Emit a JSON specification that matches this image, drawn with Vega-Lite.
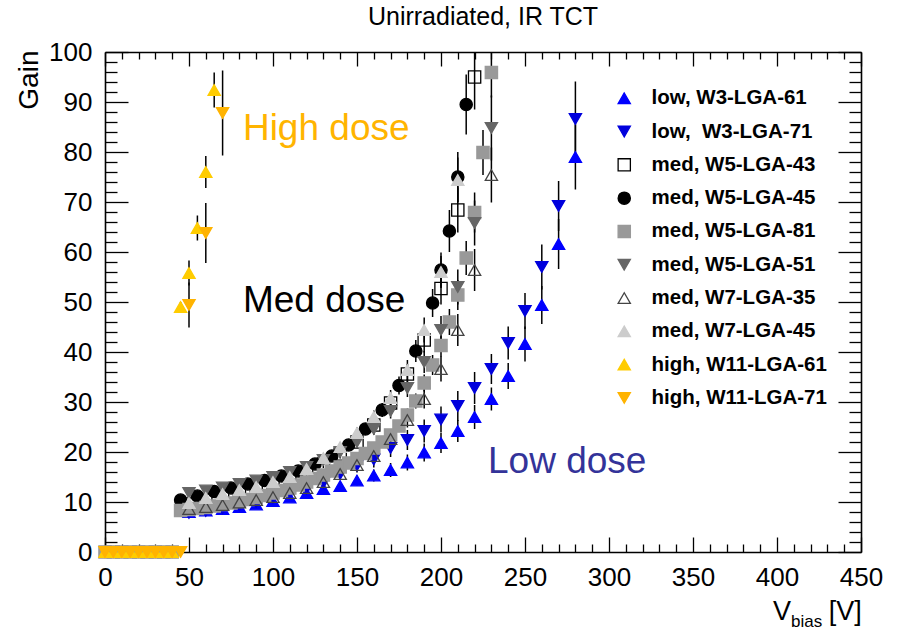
{
"$schema": "https://vega.github.io/schema/vega-lite/v6.json",
"width": 756, "height": 500,
"autosize": {"type": "none"},
"padding": {"left": 105, "top": 52, "right": 36, "bottom": 78},
"background": "white",
"config": {
  "view": {"stroke": null},
  "font": "Liberation Sans",
  "axis": {"grid": false, "domainColor": "#000", "domainWidth": 1.6, "tickColor": "#000", "tickWidth": 1.3, "labelColor": "#000", "labelFont": "Liberation Sans", "titleColor": "#000", "titleFont": "Liberation Sans"}
},
"datasets": {"pts": [
{"s":"low, W3-LGA-61","v":50,"g":8.0,"e":0.4},{"s":"low, W3-LGA-61","v":60,"g":8.3,"e":0.4},{"s":"low, W3-LGA-61","v":70,"g":8.6,"e":0.4},{"s":"low, W3-LGA-61","v":80,"g":9.0,"e":0.5},{"s":"low, W3-LGA-61","v":90,"g":9.5,"e":0.5},{"s":"low, W3-LGA-61","v":100,"g":10.2,"e":0.6},{"s":"low, W3-LGA-61","v":110,"g":10.9,"e":0.6},{"s":"low, W3-LGA-61","v":120,"g":11.8,"e":0.7},{"s":"low, W3-LGA-61","v":130,"g":12.6,"e":0.8},{"s":"low, W3-LGA-61","v":140,"g":13.2,"e":0.9},{"s":"low, W3-LGA-61","v":150,"g":14.3,"e":1.0},{"s":"low, W3-LGA-61","v":160,"g":15.3,"e":1.2},{"s":"low, W3-LGA-61","v":170,"g":16.4,"e":1.4},{"s":"low, W3-LGA-61","v":180,"g":17.9,"e":1.6},{"s":"low, W3-LGA-61","v":190,"g":19.9,"e":1.8},{"s":"low, W3-LGA-61","v":200,"g":21.8,"e":2.0},{"s":"low, W3-LGA-61","v":210,"g":24.2,"e":2.2},{"s":"low, W3-LGA-61","v":220,"g":27.0,"e":2.4},{"s":"low, W3-LGA-61","v":230,"g":30.6,"e":2.3},{"s":"low, W3-LGA-61","v":240,"g":35.2,"e":2.6},{"s":"low, W3-LGA-61","v":250,"g":41.6,"e":3.5},{"s":"low, W3-LGA-61","v":260,"g":49.4,"e":3.8},{"s":"low, W3-LGA-61","v":270,"g":61.6,"e":5.0},{"s":"low, W3-LGA-61","v":280,"g":79.0,"e":6.5},
{"s":"low,\u00a0 W3-LGA-71","v":50,"g":7.8,"e":0.4},{"s":"low,\u00a0 W3-LGA-71","v":60,"g":8.2,"e":0.4},{"s":"low,\u00a0 W3-LGA-71","v":70,"g":8.7,"e":0.5},{"s":"low,\u00a0 W3-LGA-71","v":80,"g":9.3,"e":0.5},{"s":"low,\u00a0 W3-LGA-71","v":90,"g":10.0,"e":0.6},{"s":"low,\u00a0 W3-LGA-71","v":100,"g":10.8,"e":0.7},{"s":"low,\u00a0 W3-LGA-71","v":110,"g":11.7,"e":0.8},{"s":"low,\u00a0 W3-LGA-71","v":120,"g":12.6,"e":0.9},{"s":"low,\u00a0 W3-LGA-71","v":130,"g":13.8,"e":1.0},{"s":"low,\u00a0 W3-LGA-71","v":140,"g":15.6,"e":1.2},{"s":"low,\u00a0 W3-LGA-71","v":150,"g":17.3,"e":1.4},{"s":"low,\u00a0 W3-LGA-71","v":160,"g":18.5,"e":1.6},{"s":"low,\u00a0 W3-LGA-71","v":170,"g":20.8,"e":1.8},{"s":"low,\u00a0 W3-LGA-71","v":180,"g":22.4,"e":2.0},{"s":"low,\u00a0 W3-LGA-71","v":190,"g":24.2,"e":2.3},{"s":"low,\u00a0 W3-LGA-71","v":200,"g":26.5,"e":2.6},{"s":"low,\u00a0 W3-LGA-71","v":210,"g":29.2,"e":3.0},{"s":"low,\u00a0 W3-LGA-71","v":220,"g":32.8,"e":3.2},{"s":"low,\u00a0 W3-LGA-71","v":230,"g":36.6,"e":3.0},{"s":"low,\u00a0 W3-LGA-71","v":240,"g":41.8,"e":3.3},{"s":"low,\u00a0 W3-LGA-71","v":250,"g":48.2,"e":3.6},{"s":"low,\u00a0 W3-LGA-71","v":260,"g":57.0,"e":4.5},{"s":"low,\u00a0 W3-LGA-71","v":270,"g":69.2,"e":5.0},{"s":"low,\u00a0 W3-LGA-71","v":280,"g":86.6,"e":7.5},
{"s":"med, W5-LGA-43","v":50,"g":9.6,"e":0.3},{"s":"med, W5-LGA-43","v":60,"g":10.4,"e":0.3},{"s":"med, W5-LGA-43","v":70,"g":11.2,"e":0.4},{"s":"med, W5-LGA-43","v":80,"g":12.0,"e":0.4},{"s":"med, W5-LGA-43","v":90,"g":12.8,"e":0.5},{"s":"med, W5-LGA-43","v":100,"g":13.8,"e":0.5},{"s":"med, W5-LGA-43","v":110,"g":14.8,"e":0.6},{"s":"med, W5-LGA-43","v":120,"g":16.0,"e":0.7},{"s":"med, W5-LGA-43","v":130,"g":17.6,"e":0.8},{"s":"med, W5-LGA-43","v":140,"g":19.6,"e":0.9},{"s":"med, W5-LGA-43","v":150,"g":22.0,"e":1.1},{"s":"med, W5-LGA-43","v":160,"g":25.4,"e":1.3},{"s":"med, W5-LGA-43","v":170,"g":29.8,"e":1.6},{"s":"med, W5-LGA-43","v":180,"g":35.6,"e":2.0},{"s":"med, W5-LGA-43","v":190,"g":42.4,"e":2.5},{"s":"med, W5-LGA-43","v":200,"g":52.7,"e":3.2},{"s":"med, W5-LGA-43","v":210,"g":68.4,"e":4.5},{"s":"med, W5-LGA-43","v":220,"g":95.0,"e":6.5},
{"s":"med, W5-LGA-45","v":45,"g":10.4,"e":0.3},{"s":"med, W5-LGA-45","v":55,"g":11.2,"e":0.3},{"s":"med, W5-LGA-45","v":65,"g":12.1,"e":0.4},{"s":"med, W5-LGA-45","v":75,"g":12.8,"e":0.4},{"s":"med, W5-LGA-45","v":85,"g":13.6,"e":0.5},{"s":"med, W5-LGA-45","v":95,"g":14.3,"e":0.5},{"s":"med, W5-LGA-45","v":105,"g":15.2,"e":0.6},{"s":"med, W5-LGA-45","v":115,"g":16.2,"e":0.7},{"s":"med, W5-LGA-45","v":125,"g":17.6,"e":0.8},{"s":"med, W5-LGA-45","v":135,"g":19.2,"e":0.9},{"s":"med, W5-LGA-45","v":145,"g":21.4,"e":1.0},{"s":"med, W5-LGA-45","v":155,"g":24.6,"e":1.2},{"s":"med, W5-LGA-45","v":165,"g":28.4,"e":1.4},{"s":"med, W5-LGA-45","v":175,"g":33.3,"e":1.8},{"s":"med, W5-LGA-45","v":185,"g":40.2,"e":2.2},{"s":"med, W5-LGA-45","v":195,"g":49.8,"e":2.8},{"s":"med, W5-LGA-45","v":200,"g":56.4,"e":3.5},{"s":"med, W5-LGA-45","v":205,"g":64.2,"e":4.2},{"s":"med, W5-LGA-45","v":210,"g":75.0,"e":5.0},{"s":"med, W5-LGA-45","v":215,"g":89.5,"e":6.0},
{"s":"med, W5-LGA-81","v":0,"g":0,"e":0},{"s":"med, W5-LGA-81","v":5,"g":0,"e":0},{"s":"med, W5-LGA-81","v":10,"g":0,"e":0},{"s":"med, W5-LGA-81","v":15,"g":0,"e":0},{"s":"med, W5-LGA-81","v":20,"g":0,"e":0},{"s":"med, W5-LGA-81","v":25,"g":0,"e":0},{"s":"med, W5-LGA-81","v":30,"g":0,"e":0},{"s":"med, W5-LGA-81","v":35,"g":0,"e":0},{"s":"med, W5-LGA-81","v":40,"g":0,"e":0},
{"s":"med, W5-LGA-81","v":45,"g":8.3,"e":0.3},{"s":"med, W5-LGA-81","v":50,"g":8.5,"e":0.3},{"s":"med, W5-LGA-81","v":55,"g":8.7,"e":0.3},{"s":"med, W5-LGA-81","v":60,"g":8.9,"e":0.3},{"s":"med, W5-LGA-81","v":65,"g":9.2,"e":0.3},{"s":"med, W5-LGA-81","v":70,"g":9.5,"e":0.3},{"s":"med, W5-LGA-81","v":75,"g":9.8,"e":0.3},{"s":"med, W5-LGA-81","v":80,"g":10.1,"e":0.4},{"s":"med, W5-LGA-81","v":85,"g":10.5,"e":0.4},{"s":"med, W5-LGA-81","v":90,"g":10.9,"e":0.4},{"s":"med, W5-LGA-81","v":95,"g":11.3,"e":0.4},{"s":"med, W5-LGA-81","v":100,"g":11.8,"e":0.5},{"s":"med, W5-LGA-81","v":105,"g":12.3,"e":0.5},{"s":"med, W5-LGA-81","v":110,"g":12.8,"e":0.5},{"s":"med, W5-LGA-81","v":115,"g":13.4,"e":0.5},{"s":"med, W5-LGA-81","v":120,"g":14.0,"e":0.6},{"s":"med, W5-LGA-81","v":125,"g":14.7,"e":0.6},{"s":"med, W5-LGA-81","v":130,"g":15.4,"e":0.6},{"s":"med, W5-LGA-81","v":135,"g":16.2,"e":0.7},{"s":"med, W5-LGA-81","v":140,"g":17.0,"e":0.7},{"s":"med, W5-LGA-81","v":145,"g":17.8,"e":0.8},{"s":"med, W5-LGA-81","v":150,"g":18.7,"e":0.8},{"s":"med, W5-LGA-81","v":155,"g":19.7,"e":0.9},{"s":"med, W5-LGA-81","v":160,"g":20.8,"e":1.0},{"s":"med, W5-LGA-81","v":165,"g":22.0,"e":1.0},{"s":"med, W5-LGA-81","v":170,"g":23.4,"e":1.1},{"s":"med, W5-LGA-81","v":175,"g":25.2,"e":1.2},{"s":"med, W5-LGA-81","v":180,"g":27.4,"e":1.3},{"s":"med, W5-LGA-81","v":185,"g":30.2,"e":1.5},{"s":"med, W5-LGA-81","v":190,"g":33.8,"e":1.7},{"s":"med, W5-LGA-81","v":195,"g":37.4,"e":2.0},{"s":"med, W5-LGA-81","v":200,"g":41.3,"e":2.3},{"s":"med, W5-LGA-81","v":205,"g":46.0,"e":2.6},{"s":"med, W5-LGA-81","v":210,"g":51.4,"e":3.0},{"s":"med, W5-LGA-81","v":215,"g":58.8,"e":3.4},{"s":"med, W5-LGA-81","v":220,"g":67.9,"e":4.0},{"s":"med, W5-LGA-81","v":225,"g":79.9,"e":4.5},{"s":"med, W5-LGA-81","v":230,"g":95.9,"e":5.0},
{"s":"med, W5-LGA-51","v":50,"g":11.8,"e":0.4},{"s":"med, W5-LGA-51","v":60,"g":12.3,"e":0.4},{"s":"med, W5-LGA-51","v":70,"g":12.9,"e":0.4},{"s":"med, W5-LGA-51","v":80,"g":13.6,"e":0.5},{"s":"med, W5-LGA-51","v":90,"g":14.3,"e":0.5},{"s":"med, W5-LGA-51","v":100,"g":15.0,"e":0.6},{"s":"med, W5-LGA-51","v":110,"g":16.0,"e":0.6},{"s":"med, W5-LGA-51","v":120,"g":17.0,"e":0.7},{"s":"med, W5-LGA-51","v":130,"g":18.4,"e":0.8},{"s":"med, W5-LGA-51","v":140,"g":20.0,"e":0.9},{"s":"med, W5-LGA-51","v":150,"g":22.0,"e":1.0},{"s":"med, W5-LGA-51","v":160,"g":24.6,"e":1.2},{"s":"med, W5-LGA-51","v":170,"g":28.2,"e":1.5},{"s":"med, W5-LGA-51","v":180,"g":32.8,"e":1.8},{"s":"med, W5-LGA-51","v":190,"g":38.0,"e":2.2},{"s":"med, W5-LGA-51","v":200,"g":44.4,"e":2.8},{"s":"med, W5-LGA-51","v":210,"g":53.0,"e":3.5},{"s":"med, W5-LGA-51","v":220,"g":65.8,"e":4.5},{"s":"med, W5-LGA-51","v":230,"g":84.8,"e":6.5},
{"s":"med, W7-LGA-35","v":50,"g":8.6,"e":0.3},{"s":"med, W7-LGA-35","v":60,"g":9.0,"e":0.3},{"s":"med, W7-LGA-35","v":70,"g":9.4,"e":0.3},{"s":"med, W7-LGA-35","v":80,"g":9.9,"e":0.4},{"s":"med, W7-LGA-35","v":90,"g":10.4,"e":0.4},{"s":"med, W7-LGA-35","v":100,"g":11.0,"e":0.5},{"s":"med, W7-LGA-35","v":110,"g":11.8,"e":0.5},{"s":"med, W7-LGA-35","v":120,"g":12.8,"e":0.6},{"s":"med, W7-LGA-35","v":130,"g":14.0,"e":0.7},{"s":"med, W7-LGA-35","v":140,"g":15.6,"e":0.8},{"s":"med, W7-LGA-35","v":150,"g":17.4,"e":0.9},{"s":"med, W7-LGA-35","v":160,"g":19.2,"e":1.0},{"s":"med, W7-LGA-35","v":170,"g":22.6,"e":1.2},{"s":"med, W7-LGA-35","v":180,"g":26.4,"e":1.5},{"s":"med, W7-LGA-35","v":190,"g":30.6,"e":1.9},{"s":"med, W7-LGA-35","v":200,"g":36.6,"e":2.5},{"s":"med, W7-LGA-35","v":210,"g":44.4,"e":3.2},{"s":"med, W7-LGA-35","v":220,"g":56.4,"e":4.2},{"s":"med, W7-LGA-35","v":230,"g":75.4,"e":5.5},
{"s":"med, W7-LGA-45","v":50,"g":9.8,"e":0.3},{"s":"med, W7-LGA-45","v":60,"g":10.8,"e":0.3},{"s":"med, W7-LGA-45","v":70,"g":11.6,"e":0.4},{"s":"med, W7-LGA-45","v":80,"g":12.4,"e":0.4},{"s":"med, W7-LGA-45","v":90,"g":13.0,"e":0.5},{"s":"med, W7-LGA-45","v":100,"g":14.0,"e":0.5},{"s":"med, W7-LGA-45","v":110,"g":15.0,"e":0.6},{"s":"med, W7-LGA-45","v":120,"g":16.6,"e":0.7},{"s":"med, W7-LGA-45","v":130,"g":18.8,"e":0.8},{"s":"med, W7-LGA-45","v":140,"g":21.0,"e":0.9},{"s":"med, W7-LGA-45","v":150,"g":23.8,"e":1.1},{"s":"med, W7-LGA-45","v":160,"g":27.0,"e":1.3},{"s":"med, W7-LGA-45","v":170,"g":30.8,"e":1.6},{"s":"med, W7-LGA-45","v":180,"g":36.4,"e":2.0},{"s":"med, W7-LGA-45","v":190,"g":44.4,"e":2.5},{"s":"med, W7-LGA-45","v":200,"g":56.0,"e":3.2},{"s":"med, W7-LGA-45","v":210,"g":74.4,"e":4.5},
{"s":"high, W11-LGA-61","v":0,"g":0,"e":0},{"s":"high, W11-LGA-61","v":5,"g":0,"e":0},{"s":"high, W11-LGA-61","v":10,"g":0,"e":0},{"s":"high, W11-LGA-61","v":15,"g":0,"e":0},{"s":"high, W11-LGA-61","v":20,"g":0,"e":0},{"s":"high, W11-LGA-61","v":25,"g":0,"e":0},{"s":"high, W11-LGA-61","v":30,"g":0,"e":0},{"s":"high, W11-LGA-61","v":35,"g":0,"e":0},{"s":"high, W11-LGA-61","v":40,"g":0,"e":0},
{"s":"high, W11-LGA-61","v":45,"g":49.0,"e":1.0},{"s":"high, W11-LGA-61","v":50,"g":55.8,"e":2.5},{"s":"high, W11-LGA-61","v":55,"g":64.8,"e":2.5},{"s":"high, W11-LGA-61","v":60,"g":76.0,"e":3.2},{"s":"high, W11-LGA-61","v":65,"g":92.4,"e":3.5},
{"s":"high, W11-LGA-71","v":0,"g":0,"e":0},{"s":"high, W11-LGA-71","v":5,"g":0,"e":0},{"s":"high, W11-LGA-71","v":10,"g":0,"e":0},{"s":"high, W11-LGA-71","v":15,"g":0,"e":0},{"s":"high, W11-LGA-71","v":20,"g":0,"e":0},{"s":"high, W11-LGA-71","v":25,"g":0,"e":0},{"s":"high, W11-LGA-71","v":30,"g":0,"e":0},{"s":"high, W11-LGA-71","v":35,"g":0,"e":0},{"s":"high, W11-LGA-71","v":40,"g":0,"e":0},{"s":"high, W11-LGA-71","v":45,"g":0,"e":0},
{"s":"high, W11-LGA-71","v":50,"g":49.4,"e":4.5},{"s":"high, W11-LGA-71","v":60,"g":63.8,"e":6.0},{"s":"high, W11-LGA-71","v":70,"g":87.8,"e":8.5}
]},
"resolve": {"axis": {"x": "independent", "y": "independent"}},
"layer": [
  {
    "data": {"name": "pts"},
    "mark": {"type": "errorbar", "color": "black", "thickness": 1.5, "clip": true},
    "encoding": {
      "x": {"field": "v", "type": "quantitative", "scale": {"domain": [0, 450], "nice": false},
        "axis": {"orient": "bottom", "values": [0,50,100,150,200,250,300,350,400,450], "tickSize": -15, "labelPadding": 27, "labelFontSize": 26, "labelFlush": false, "labelOverlap": false, "title": null}},
      "y": {"field": "g", "type": "quantitative", "scale": {"domain": [0, 100], "nice": false},
        "axis": {"orient": "left", "values": [0,10,20,30,40,50,60,70,80,90,100], "tickSize": -23, "labelPadding": 36, "labelFontSize": 26, "labelOverlap": false,
          "title": "Gain", "titleFontSize": 28, "titleFontWeight": "normal", "titleAngle": 270, "titleAlign": "right", "titleBaseline": "alphabetic", "titleX": -68, "titleY": -2}},
      "yError": {"field": "e"}
    }
  },
  {
    "data": {"name": "pts"},
    "mark": {"type": "point", "filled": true, "size": 150, "opacity": 1, "strokeWidth": 1.3},
    "encoding": {
      "x": {"field": "v", "type": "quantitative", "scale": {"domain": [0, 450], "nice": false},
        "axis": {"orient": "bottom", "values": [10,20,30,40,60,70,80,90,110,120,130,140,160,170,180,190,210,220,230,240,260,270,280,290,310,320,330,340,360,370,380,390,410,420,430,440], "tickSize": -8, "labels": false, "domain": false, "title": null}},
      "y": {"field": "g", "type": "quantitative", "scale": {"domain": [0, 100], "nice": false},
        "axis": {"orient": "left", "values": [2,4,6,8,12,14,16,18,22,24,26,28,32,34,36,38,42,44,46,48,52,54,56,58,62,64,66,68,72,74,76,78,82,84,86,88,92,94,96,98], "tickSize": -12, "labels": false, "domain": false, "title": null}},
      "fill": {"field": "s", "type": "nominal",
        "scale": {"domain": ["low, W3-LGA-61","low,\u00a0 W3-LGA-71","med, W5-LGA-43","med, W5-LGA-45","med, W5-LGA-81","med, W5-LGA-51","med, W7-LGA-35","med, W7-LGA-45","high, W11-LGA-61","high, W11-LGA-71"],
          "range": ["#0000ff","#0000dd","transparent","#000000","#999999","#666666","transparent","#cccccc","#ffcc00","#ffb300"]},
        "legend": {"title": null, "orient": "none", "legendX": 509, "legendY": 36, "padding": 0, "labelFont": "Liberation Sans", "labelFontSize": 20.5, "labelFontWeight": "bold", "labelColor": "black", "labelOffset": 17, "rowPadding": 12.3, "symbolSize": 150, "symbolStrokeWidth": 1.3, "labelLimit": 300}},
      "stroke": {"field": "s", "type": "nominal",
        "scale": {"domain": ["low, W3-LGA-61","low,\u00a0 W3-LGA-71","med, W5-LGA-43","med, W5-LGA-45","med, W5-LGA-81","med, W5-LGA-51","med, W7-LGA-35","med, W7-LGA-45","high, W11-LGA-61","high, W11-LGA-71"],
          "range": ["#0000ff","#0000dd","#000000","#000000","#999999","#666666","#444444","#cccccc","#ffcc00","#ffb300"]},
        "legend": {"title": null, "orient": "none", "legendX": 509, "legendY": 36, "padding": 0, "labelFont": "Liberation Sans", "labelFontSize": 20.5, "labelFontWeight": "bold", "labelColor": "black", "labelOffset": 17, "rowPadding": 12.3, "symbolSize": 150, "symbolStrokeWidth": 1.3, "labelLimit": 300}},
      "shape": {"field": "s", "type": "nominal",
        "scale": {"domain": ["low, W3-LGA-61","low,\u00a0 W3-LGA-71","med, W5-LGA-43","med, W5-LGA-45","med, W5-LGA-81","med, W5-LGA-51","med, W7-LGA-35","med, W7-LGA-45","high, W11-LGA-61","high, W11-LGA-71"],
          "range": ["triangle-up","triangle-down","square","circle","square","triangle-down","triangle-up","triangle-up","triangle-up","triangle-down"]},
        "legend": {"title": null, "orient": "none", "legendX": 509, "legendY": 36, "padding": 0, "labelFont": "Liberation Sans", "labelFontSize": 20.5, "labelFontWeight": "bold", "labelColor": "black", "labelOffset": 17, "rowPadding": 12.3, "symbolSize": 150, "symbolStrokeWidth": 1.3, "labelLimit": 300}}
    }
  },
  {
    "data": {"values": [{}]},
    "mark": {"type": "text", "text": "High dose", "font": "Liberation Sans", "fontSize": 37, "color": "#ffb400", "align": "left", "baseline": "alphabetic"},
    "encoding": {
      "x": {"datum": 82.1, "type": "quantitative", "scale": {"domain": [0, 450], "nice": false},
        "axis": {"orient": "top", "values": [0,50,100,150,200,250,300,350,400,450], "tickSize": -14, "labels": false, "title": null}},
      "y": {"datum": 82.4, "type": "quantitative", "scale": {"domain": [0, 100], "nice": false},
        "axis": {"orient": "right", "values": [0,10,20,30,40,50,60,70,80,90,100], "tickSize": -23, "labels": false, "title": null}}
    }
  },
  {
    "data": {"values": [{}]},
    "mark": {"type": "text", "text": "Med dose", "font": "Liberation Sans", "fontSize": 37, "color": "#000000", "align": "left", "baseline": "alphabetic"},
    "encoding": {
      "x": {"datum": 82.1, "type": "quantitative", "scale": {"domain": [0, 450], "nice": false},
        "axis": {"orient": "top", "values": [10,20,30,40,60,70,80,90,110,120,130,140,160,170,180,190,210,220,230,240,260,270,280,290,310,320,330,340,360,370,380,390,410,420,430,440], "tickSize": -7, "labels": false, "domain": false, "title": null}},
      "y": {"datum": 48, "type": "quantitative", "scale": {"domain": [0, 100], "nice": false},
        "axis": {"orient": "right", "values": [2,4,6,8,12,14,16,18,22,24,26,28,32,34,36,38,42,44,46,48,52,54,56,58,62,64,66,68,72,74,76,78,82,84,86,88,92,94,96,98], "tickSize": -12, "labels": false, "domain": false, "title": null}}
    }
  },
  {
    "data": {"values": [{}]},
    "mark": {"type": "text", "text": "Low dose", "font": "Liberation Sans", "fontSize": 37, "color": "#333399", "align": "left", "baseline": "alphabetic"},
    "encoding": {
      "x": {"datum": 228, "type": "quantitative", "scale": {"domain": [0, 450], "nice": false}, "axis": null},
      "y": {"datum": 15.8, "type": "quantitative", "scale": {"domain": [0, 100], "nice": false}, "axis": null}
    }
  },
  {
    "data": {"values": [{}]},
    "mark": {"type": "text", "text": "Unirradiated, IR TCT", "font": "Liberation Sans", "fontSize": 25, "color": "#000000", "align": "center", "baseline": "alphabetic"},
    "encoding": {
      "x": {"datum": 225, "type": "quantitative", "scale": {"domain": [0, 450], "nice": false}, "axis": null},
      "y": {"datum": 105.4, "type": "quantitative", "scale": {"domain": [0, 100], "nice": false}, "axis": null}
    }
  },
  {
    "data": {"values": [{}]},
    "mark": {"type": "text", "text": "V", "font": "Liberation Sans", "fontSize": 27, "color": "#000000", "align": "left", "baseline": "alphabetic"},
    "encoding": {
      "x": {"datum": 397.6, "type": "quantitative", "scale": {"domain": [0, 450], "nice": false}, "axis": null},
      "y": {"datum": -13.6, "type": "quantitative", "scale": {"domain": [0, 100], "nice": false}, "axis": null}
    }
  },
  {
    "data": {"values": [{}]},
    "mark": {"type": "text", "text": "bias", "font": "Liberation Sans", "fontSize": 17, "color": "#000000", "align": "left", "baseline": "alphabetic"},
    "encoding": {
      "x": {"datum": 408.3, "type": "quantitative", "scale": {"domain": [0, 450], "nice": false}, "axis": null},
      "y": {"datum": -15.0, "type": "quantitative", "scale": {"domain": [0, 100], "nice": false}, "axis": null}
    }
  },
  {
    "data": {"values": [{}]},
    "mark": {"type": "text", "text": "[V]", "font": "Liberation Sans", "fontSize": 27, "color": "#000000", "align": "right", "baseline": "alphabetic"},
    "encoding": {
      "x": {"datum": 450.5, "type": "quantitative", "scale": {"domain": [0, 450], "nice": false}, "axis": null},
      "y": {"datum": -13.6, "type": "quantitative", "scale": {"domain": [0, 100], "nice": false}, "axis": null}
    }
  }
]
}
